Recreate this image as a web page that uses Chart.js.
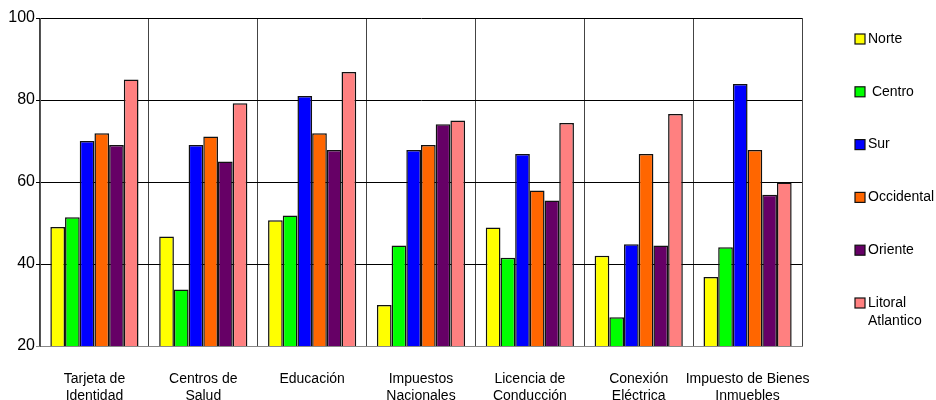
<!DOCTYPE html>
<html>
<head>
<meta charset="utf-8">
<script src="https://cdn.jsdelivr.net/npm/chart.js@4/dist/chart.umd.min.js"></script>
<style>
  html, body { margin: 0; padding: 0; background: #fff; }
  #wrap { width: 936px; height: 400px; position: relative; }
</style>
</head>
<body>
<div id="wrap"><canvas id="c" width="936" height="400"></canvas></div>
<script>
// Trámites por región
const categories = [
  ['Tarjeta de', 'Identidad'],
  ['Centros de', 'Salud'],
  'Educación',
  ['Impuestos', 'Nacionales'],
  ['Licencia de', 'Conducción'],
  ['Conexión', 'Eléctrica'],
  ['Impuesto de Bienes', 'Inmuebles']
];
const seriesNames = ['Norte', ' Centro', 'Sur', 'Occidental', 'Oriente', ['Litoral', 'Atlantico']];
const norte      = [49, 46.7, 50.7, 30, 48.9, 42, 36.8];
const centro     = [51.4, 33.8, 51.8, 44.5, 41.5, 27, 44.1];
const sur        = [70, 69, 81, 67.8, 66.8, 44.8, 83.9];
const occidental = [71.9, 71.1, 71.9, 69, 57.9, 66.8, 67.8];
const oriente    = [69, 65, 67.8, 74.1, 55.5, 44.5, 56.9];
const litoral    = [85, 79.2, 86.8, 75, 74.4, 76.6, 59.9];
const yTicks = [20, 40, 60, 80, 100];

const seriesValues = [norte, centro, sur, occidental, oriente, litoral];
const seriesColors = ['#FFFF00', '#00FF00', '#0000FF', '#FF6600', '#660066', '#FF8080'];

const FONT = "'Liberation Sans', Arial, Helvetica, sans-serif";

// Legend drawn in a single column to the right of the plot
const sideLegend = {
  id: 'sideLegend',
  afterDraw(chart) {
    const ctx = chart.ctx;
    const x0 = 855, y0 = 39, step = 52.8, box = 10;
    ctx.save();
    ctx.font = '14px ' + FONT;
    ctx.textBaseline = 'middle';
    ctx.textAlign = 'left';
    chart.data.datasets.forEach((ds, i) => {
      const cy = y0 + i * step;
      ctx.fillStyle = ds.backgroundColor;
      ctx.fillRect(x0, cy - box / 2, box, box);
      ctx.strokeStyle = '#111';
      ctx.lineWidth = 1.2;
      ctx.strokeRect(x0, cy - box / 2, box, box);
      ctx.fillStyle = '#000';
      const lines = Array.isArray(ds.label) ? ds.label : [ds.label];
      lines.forEach((t, k) => ctx.fillText(t, x0 + 13, cy + k * 18));
    });
    ctx.restore();
  }
};

new Chart(document.getElementById('c'), {
  type: 'bar',
  data: {
    labels: categories,
    datasets: seriesValues.map((vals, i) => ({
      label: seriesNames[i],
      data: vals,
      backgroundColor: seriesColors[i],
      borderColor: '#111',
      borderWidth: 1.5,
      borderSkipped: false,
      categoryPercentage: 0.81,
      barPercentage: 1.0
    }))
  },
  options: {
    responsive: false,
    animation: false,
    devicePixelRatio: 1,
    layout: { padding: { top: 18, right: 134, bottom: 0, left: 0 } },
    plugins: {
      legend: { display: false },
      tooltip: { enabled: false }
    },
    scales: {
      x: {
        afterFit(scale) { scale.height = 54; },
        grid: {
          offset: true,
          drawTicks: false,
          color: '#444',
          lineWidth: 1
        },
        border: { display: true, color: '#888', width: 1 },
        ticks: {
          padding: 25,
          color: '#000',
          font: { family: FONT, size: 14 },
          maxRotation: 0,
          autoSkip: false
        }
      },
      y: {
        min: 20,
        max: 100,
        afterFit(scale) { scale.width = 40; },
        afterBuildTicks(scale) { scale.ticks = yTicks.map(v => ({ value: v })); },
        grid: {
          color: (c) => (c.tick && c.tick.value === 20 ? '#888' : '#000'),
          lineWidth: 1,
          tickLength: 4,
          drawTicks: true
        },
        border: { display: true, color: '#555', width: 1 },
        ticks: {
          padding: 1,
          color: '#000',
          font: { family: FONT, size: 16 }
        }
      }
    }
  },
  plugins: [sideLegend]
});
</script>
</body>
</html>
